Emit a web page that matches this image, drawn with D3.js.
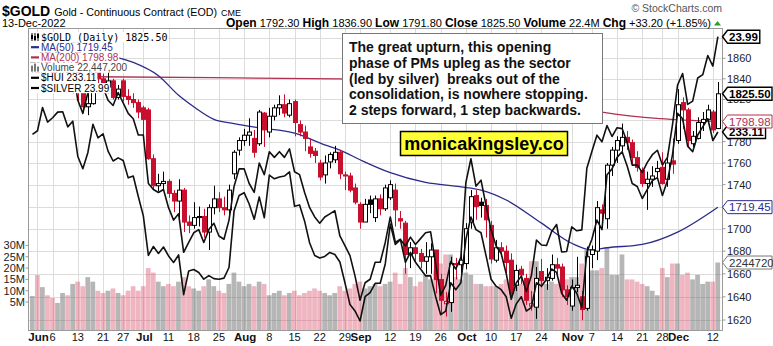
<!DOCTYPE html>
<html><head><meta charset="utf-8">
<script src="https://cdn.jsdelivr.net/npm/d3@7"></script>
<style>body{margin:0;background:#fff}svg{display:block;font-family:"Liberation Sans",Arial,sans-serif}</style>
</head><body><svg id="c" width="773" height="346"></svg>
<script>
// ---------- DATA ----------
const tradingDays = {
 "2022-05": [31],
 "2022-06": [1,2,3,6,7,8,9,10,13,14,15,16,17,21,22,23,24,27,28,29,30],
 "2022-07": [1,5,6,7,8,11,12,13,14,15,18,19,20,21,22,25,26,27,28,29],
 "2022-08": [1,2,3,4,5,8,9,10,11,12,15,16,17,18,19,22,23,24,25,26,29,30,31],
 "2022-09": [1,2,6,7,8,9,12,13,14,15,16,19,20,21,22,23,26,27,28,29,30],
 "2022-10": [3,4,5,6,7,10,11,12,13,14,17,18,19,20,21,24,25,26,27,28,31],
 "2022-11": [1,2,3,4,7,8,9,10,11,14,15,16,17,18,21,22,23,25,28,29,30],
 "2022-12": [1,2,5,6,7,8,9,12,13]
};
const dates = Object.entries(tradingDays).flatMap(([m,ds]) => ds.map(d => m + "-" + String(d).padStart(2,"0")));

const open = [1857,1848,1845,1871,1851,1844,1852,1855,1853,1875,1832,1813,1816,1848,1840,1832,1838,1822,1838,1823,1820,1817,
 1812,1810,1764,1739,1741,1743,1732,1725,1735,1706,1703,1710,1711,1697,1719,1727,1719,1717,1750,1772,
 1781,1786,1783,1778,1807,1789,1804,1812,1815,1805,1818,1796,1789,1775,1771,1760,1749,1761,1763,1770,1749,1748,1737,
 1722,1706,1726,1710,1727,1718,1728,1735,1709,1705,1677,1683,1678,1671,1675,1681,1655,1634,1635,1669,1668,
 1669,1706,1730,1724,1721,1703,1672,1683,1680,1672,1650,1664,1656,1632,1631,1662,1654,1656,1668,1666,1646,
 1632,1648,1640,1630,1677,1680,1717,1709,1758,1772,1776,1784,1779,1765,1753,1741,1745,1752,1756,1745,1762,
 1781,1817,1810,1778,1783,1798,1801,1808,1792.3];
const high = [1858,1857,1874,1874,1862,1858,1860,1858,1878,1877,1834,1838,1858,1849,1845,1847,1840,1834,1840,1830,1826,1820,
 1814,1812,1768,1750,1752,1745,1735,1745,1737,1712,1724,1720,1718,1722,1739,1733,1729,1740,1772,1784,
 1792,1802,1791,1810,1808,1812,1815,1824,1825,1820,1820,1800,1795,1783,1774,1763,1767,1770,1776,1772,1752,1751,1741,
 1724,1727,1730,1730,1731,1740,1744,1741,1716,1707,1688,1685,1682,1688,1687,1681,1660,1644,1675,1674,1680,
 1705,1735,1735,1728,1727,1707,1690,1688,1685,1678,1668,1667,1660,1645,1666,1673,1665,1677,1674,1669,1650,
 1655,1675,1645,1684,1685,1725,1722,1760,1775,1785,1797,1790,1782,1771,1756,1752,1757,1762,1770,1768,1783,
 1830,1822,1812,1790,1803,1808,1815,1810,1836.9];
const low = [1838,1828,1843,1848,1838,1838,1846,1842,1826,1818,1807,1805,1815,1832,1830,1826,1820,1820,1818,1815,1812,1802,
 1784,1763,1735,1734,1735,1728,1715,1707,1697,1696,1700,1702,1692,1681,1713,1715,1712,1711,1745,1767,
 1776,1776,1765,1776,1775,1784,1800,1805,1803,1803,1785,1785,1771,1765,1760,1744,1741,1755,1760,1745,1735,1733,1722,
 1700,1706,1714,1706,1712,1716,1726,1702,1700,1660,1665,1670,1665,1660,1660,1643,1626,1623,1627,1655,1660,
 1664,1700,1708,1710,1692,1669,1670,1675,1659,1640,1645,1651,1633,1628,1621,1648,1646,1654,1658,1640,1633,
 1628,1644,1620,1628,1665,1672,1702,1700,1748,1760,1771,1772,1758,1752,1738,1717,1738,1745,1740,1738,1750,
 1778,1792,1775,1775,1782,1790,1797,1788,1791.8];
const close = [1848,1845,1871,1851,1844,1852,1855,1853,1875,1832,1813,1816,1848,1840,1832,1838,1822,1830,1823,1820,1817,1808,
 1801,1764,1739,1741,1743,1732,1725,1735,1706,1703,1710,1711,1697,1719,1727,1719,1717,1735,1770,1781,
 1786,1789,1770,1808,1791,1804,1812,1815,1807,1816,1798,1789,1783,1769,1767,1747,1760,1768,1770,1750,1748,1735,1724,
 1706,1722,1722,1727,1718,1737,1740,1717,1707,1677,1683,1678,1671,1675,1681,1655,1637,1636,1669,1668,1672,
 1700,1729,1720,1721,1708,1673,1683,1680,1670,1643,1663,1659,1637,1634,1656,1654,1657,1668,1665,1646,1640,
 1648,1650,1629,1675,1681,1719,1714,1758,1772,1781,1784,1779,1765,1756,1741,1745,1748,1755,1741,1760,1759,
 1815,1810,1781,1785,1798,1801,1810,1791,1825.5];
const volumeM = [7.7,16.9,11.6,8,6.8,4.6,9,8,13,14,12,16,14,10,9,10,11,9,8,10,12,10,
 12,20,18,14,12,13,12,14,16,12,11,10,12,15,12,10,9,13,18,14,
 12,13,12,14,13,8,9,10,8,9,10,8,9,10,11,10,9,8,9,12,10,11,13,
 14,11,12,13,12,13,14,18,13,20,16,12,14,17,15,19,22,26,26,16,15,
 18,17,13,13,12,12,12,13,15,12,12,13,14,23,23,14,13,14,13,15,15,
 16,16,22,28,19,19,20,29,17,17,26,15,15,14,13,12,10,8,20,16,22,
 22,17,18,15,17,13,14,14,22.4472];
const silver = [21.65,21.73,22.27,21.93,22.03,22.16,22.17,21.82,21.95,21.15,20.88,21.24,21.88,21.57,21.66,21.27,21.05,21.12,21.06,20.68,20.72,20.28,
 19.87,19.06,19.24,19.10,19.23,19.05,18.92,19.07,18.29,18.75,18.78,18.72,18.59,18.66,18.60,18.59,18.61,18.82,19.97,20.30,
 20.36,20.12,19.80,20.27,19.83,20.74,20.66,20.70,20.72,20.81,20.07,20.10,19.76,19.31,19.06,19.01,19.04,19.12,19.08,18.93,18.52,18.10,17.98,
 17.79,18.25,18.33,18.51,18.51,18.89,19.70,19.28,19.38,19.25,19.43,19.28,19.40,19.52,19.54,18.89,18.28,18.47,18.94,18.79,19.02,
 20.58,21.10,20.50,20.63,20.09,19.58,19.25,19.10,18.70,18.20,18.52,18.65,18.35,18.66,19.37,19.27,19.26,19.54,19.69,19.13,19.14,
 19.64,19.56,19.58,20.89,21.26,21.63,21.48,21.85,21.60,21.80,21.78,21.47,20.96,20.96,20.80,21.02,21.19,21.29,20.96,21.13,21.87,
 22.80,23.08,22.34,22.42,22.97,23.05,23.52,23.26,23.99];
const hui = [262,258,268,262,262,265,262,255,258,245,240,248,252,248,250,245,243,248,244,240,238,232,
 232,215,213,212,213,207,203,205,193,196,199,200,196,200,202,198,197,203,214,220,
 220,215,212,222,218,226,224,226,224,227,219,218,212,207,204,202,204,205,206,198,195,192,186,
 179,184,185,190,190,196,204,196,197,190,193,190,188,186,186,180,175,176,184,182,184,
 197,204,200,199,192,185,183,182,180,174,178,180,176,177,184,183,185,188,187,181,179,
 183,181,177,193,197,203,200,218,220,224,226,221,215,214,210,213,216,217,211,216,225,
 240,238,228,226,232,235,238,230,233.11];
const ma50Dates = ["2022-06-23","2022-06-29","2022-07-07","2022-07-13","2022-07-18","2022-07-22","2022-07-28","2022-08-04","2022-08-15","2022-08-23","2022-08-26","2022-09-01","2022-09-12","2022-09-21","2022-09-30","2022-10-06","2022-10-13","2022-10-24","2022-11-01","2022-11-07","2022-11-10","2022-11-21","2022-12-01","2022-12-13"];
const ma50Values = [1862,1856,1843,1824,1813,1801,1797,1793,1788,1777,1772,1763,1751,1742,1738,1735,1726,1705,1687,1681,1683,1686,1697,1719.45];
const ma200Dates = ["2022-05-31","2022-06-16","2022-08-26","2022-09-30","2022-10-31","2022-11-09","2022-12-13"];
const ma200Values = [1843,1842,1840,1832,1815,1808,1798.98];
const priceTicks = [1620,1640,1660,1680,1700,1720,1740,1760,1780,1800,1820,1840,1860,1880];
const priceLabels = [1620,1640,1660,1680,1700,1740,1760,1780,1820,1840,1860];
const volumeTicks = [5,10,15,20,25,30];
const dateLabels = [["2022-06-01","Jun",1],["2022-06-06","6"],["2022-06-13","13"],["2022-06-21","21"],["2022-06-27","27"],["2022-07-01","Jul",1],["2022-07-11","11"],["2022-07-18","18"],["2022-07-25","25"],["2022-08-01","Aug",1],["2022-08-08","8"],["2022-08-15","15"],["2022-08-22","22"],["2022-08-29","29"],["2022-09-01","Sep",1],["2022-09-12","12"],["2022-09-19","19"],["2022-09-26","26"],["2022-10-03","Oct",1],["2022-10-10","10"],["2022-10-17","17"],["2022-10-24","24"],["2022-11-01","Nov",1],["2022-11-07","7"],["2022-11-14","14"],["2022-11-21","21"],["2022-11-28","28"],["2022-12-01","Dec",1],["2022-12-12","12"]];
const noteLines = ["The great upturn, this opening","phase of PMs upleg as the sector","(led by silver)  breaks out of the","consolidation, is nowhere stopping.","2 steps forward, 1 step backwards."];

// ---------- CHART ----------
const svg = d3.select("#c");
const L = 28.5, R = 722.5, T = 28.5, B = 330.5;
const RED = "#c8102e";
const x = d3.scaleBand().domain(dates).range([29.94, 720.4]);
const xc = d => x(d) + x.bandwidth()/2;
const y = d3.scaleLog().domain([1611.5, 1889]).range([330, 29]);
const yv = d3.scaleLinear().domain([0, 30]).range([313.4, 245.4]);
const ys = d3.scaleLog().domain([17.79, 23.99]).range([321, 36.7]);
const yh = d3.scaleLog().domain([173, 271]).range([322, 36]);

svg.append("rect").attr("width",773).attr("height",346).attr("fill","#fff");
svg.append("clipPath").attr("id","pc").append("rect").attr("x",L).attr("y",T).attr("width",R-L).attr("height",B-T);

const plot = svg.append("g").attr("clip-path","url(#pc)");
// grid
plot.selectAll(".hg").data(priceTicks).join("line").attr("x1",L).attr("x2",R)
  .attr("y1",d=>Math.round(y(d))+0.5).attr("y2",d=>Math.round(y(d))+0.5).attr("stroke","#dcdcdc");
plot.selectAll(".vg").data(dateLabels).join("line").attr("y1",T).attr("y2",B)
  .attr("x1",d=>Math.round(xc(d[0]))+0.5).attr("x2",d=>Math.round(xc(d[0]))+0.5).attr("stroke","#dcdcdc");

// volume
const bw = x.bandwidth();
plot.selectAll(".vb").data(dates).join("rect")
  .attr("x",d=>x(d)).attr("width",bw-0.3)
  .attr("y",(d,i)=>yv(volumeM[i])).attr("height",(d,i)=>B - yv(volumeM[i]))
  .attr("fill",(d,i)=> (i>0 && close[i] < close[i-1]) ? "rgba(214,60,90,0.38)" : "rgba(110,110,110,0.5)");

// MA lines
const ma50 = ma50Dates.map((d,i)=>[xc(d), y(ma50Values[i])]);
const ma200 = ma200Dates.map((d,i)=>[xc(d), y(ma200Values[i])]);
const lineGen = d3.line().curve(d3.curveMonotoneX);
plot.append("path").attr("d",lineGen(ma200)).attr("fill","none").attr("stroke","#b03050").attr("stroke-width",1.3);
plot.append("path").attr("d",lineGen(ma50)).attr("fill","none").attr("stroke","#2b2b8c").attr("stroke-width",1.3);

// candles
const cg = plot.append("g");
dates.forEach((d,i)=>{
  const cx = Math.round(xc(d)) + 0.5;
  const up = i === 0 ? true : close[i] >= close[i-1];
  const col = up ? "#000" : RED;
  const hollow = close[i] > open[i];
  cg.append("line").attr("x1",cx).attr("x2",cx).attr("y1",y(high[i])).attr("y2",y(low[i])).attr("stroke",col).attr("stroke-width",1);
  const top = y(Math.max(open[i],close[i])), bot = y(Math.min(open[i],close[i]));
  cg.append("rect").attr("x",cx-2).attr("width",4).attr("y",top).attr("height",Math.max(1,bot-top))
    .attr("fill",hollow ? "#fff" : col).attr("stroke",col).attr("stroke-width",1);
});

// overlays
const ov = d3.line().x((d,i)=>xc(dates[i]));
plot.append("path").attr("d",ov.y(d=>yh(d))(hui)).attr("fill","none").attr("stroke","#111").attr("stroke-width",1.6).attr("stroke-linejoin","round");
plot.append("path").attr("d",ov.y(d=>ys(d))(silver)).attr("fill","none").attr("stroke","#111").attr("stroke-width",1.6).attr("stroke-linejoin","round");

// frame
svg.append("rect").attr("x",L).attr("y",T).attr("width",R-L).attr("height",B-T).attr("fill","none").attr("stroke","#9a9a9a");

// right axis
svg.selectAll(".ry").data(priceLabels).join("text").attr("x",727).attr("y",d=>y(d)+4)
  .attr("font-size",11).attr("fill","#222").text(d=>d);
svg.selectAll(".rt").data(priceTicks).join("line").attr("x1",R).attr("x2",R+3).attr("y1",d=>y(d)).attr("y2",d=>y(d)).attr("stroke","#999");
// left volume axis
svg.selectAll(".ly").data(volumeTicks).join("text").attr("x",25).attr("y",d=>yv(d)+4).attr("text-anchor","end")
  .attr("font-size",11).attr("fill","#222").text(d=>d+"M");
svg.selectAll(".lt").data(volumeTicks).join("line").attr("x1",L-3).attr("x2",L).attr("y1",d=>yv(d)).attr("y2",d=>yv(d)).attr("stroke","#999");
// bottom axis
svg.selectAll(".bx").data(dateLabels).join("text").attr("x",d=>xc(d[0])+(d[2]?1:0)).attr("y",341).attr("text-anchor","middle")
  .attr("font-size",d=>d[2]?11.5:11).attr("font-weight",d=>d[2]?"bold":"normal").attr("fill","#111").text(d=>d[1]);

// header
const h1 = svg.append("text").attr("x",2).attr("y",15.5).attr("fill","#000");
h1.append("tspan").attr("font-size",14).attr("font-weight","bold").text("$GOLD");
h1.append("tspan").attr("font-size",10.7).attr("dx",4).text("Gold - Continuous Contract (EOD)");
h1.append("tspan").attr("font-size",9).attr("dx",4).text("CME");
svg.append("text").attr("x",2).attr("y",27).attr("font-size",11).text("13-Dec-2022");
const h2 = svg.append("text").attr("x",711).attr("y",27).attr("text-anchor","end").attr("font-size",11);
[["Open"," 1792.30  "],["High"," 1836.90  "],["Low"," 1791.80  "],["Close"," 1825.50  "],["Volume"," 22.4M  "],["Chg"," +33.20 (+1.85%)"]].forEach(([a,b])=>{
  h2.append("tspan").attr("font-weight","bold").attr("font-size",12).text(a);
  h2.append("tspan").text(b);
});
svg.append("path").attr("d","M714,25.5 L717.5,21 L721,25.5 Z").attr("fill","#2a9d2a");
svg.append("text").attr("x",722).attr("y",12).attr("text-anchor","end").attr("font-size",10.5).attr("fill","#555").text("\u00A9 StockCharts.com");

// legend
const lg = svg.append("g");
const legend = [
  {t:"$GOLD (Daily) 1825.50", mono:true, icon:"candle"},
  {t:"MA(50) 1719.45", c:"#2b2b8c", fc:"#2b2b8c", icon:"line"},
  {t:"MA(200) 1798.98", c:"#b03050", fc:"#b03050", icon:"line"},
  {t:"Volume 22,447,200", c:"#888", fc:"#444", icon:"vol"},
  {t:"$HUI 233.11", c:"#000", icon:"line"},
  {t:"$SILVER 23.99", c:"#000", icon:"line"}
];
legend.forEach((e,i)=>{
  const cy = 37 + i*10.2;
  const tx = lg.append("text").attr("x",41).attr("y",cy+3.6).attr("fill",e.fc||"#000")
     .attr("font-size",10).attr("font-family",e.mono?"DejaVu Sans Mono":null).text(e.t);
  const w = tx.node().getComputedTextLength();
  lg.insert("rect","text").attr("x",29).attr("y",cy-5).attr("width",w+13).attr("height",10.2).attr("fill","#fff");
  if(e.icon==="line") lg.append("line").attr("x1",31).attr("x2",39).attr("y1",cy).attr("y2",cy).attr("stroke",e.c).attr("stroke-width",2.2);
  if(e.icon==="vol") [0,3,6].forEach((o,k)=>lg.append("rect").attr("x",31+o).attr("y",cy-[2,4,1][k]).attr("width",2).attr("height",[2,4,1][k]+4).attr("fill","#777"));
  if(e.icon==="candle") [0,3,6].forEach((o,k)=>{lg.append("line").attr("x1",32+o).attr("x2",32+o).attr("y1",cy-4).attr("y2",cy+4).attr("stroke","#000");
     lg.append("rect").attr("x",31+o).attr("y",cy-[2,1,3][k]).attr("width",2).attr("height",4).attr("fill","#000");});
});

// right tags
function tag(yc, label, color, textColor, bold){
  const g = svg.append("g");
  const t = g.append("text").attr("x",729).attr("y",yc+4).attr("font-size",11.5).attr("font-weight",bold?"bold":"normal").attr("fill",textColor).text(label);
  const w = t.node().getComputedTextLength();
  const x0 = 722.5, x1 = 727.5, x2 = Math.min(772, 731 + w);
  g.insert("path","text").attr("d",`M${x0},${yc} L${x1},${yc-6.5} L${x2},${yc-6.5} L${x2},${yc+6.5} L${x1},${yc+6.5} Z`)
    .attr("fill","#fff").attr("stroke",color).attr("stroke-width",bold?1.4:1);
}
const n = dates.length-1;
tag(yv(volumeM[n]), "2244720", "#777", "#333", false);
tag(y(ma50Values[ma50Values.length-1]), "1719.45", "#2b2b8c", "#2b2b8c", false);
tag(yh(hui[n]), "233.11", "#000", "#000", true);
tag(y(ma200Values[ma200Values.length-1]), "1798.98", "#b03050", "#b03050", false);
tag(y(close[n]), "1825.50", "#000", "#000", true);
tag(ys(silver[n]), "23.99", "#000", "#000", true);

// annotation
svg.append("rect").attr("x",342.5).attr("y",33.5).attr("width",260).attr("height",90).attr("fill","#fff").attr("stroke","#777");
svg.append("g").selectAll("text").data(noteLines).join("text").attr("x",349).attr("y",(d,i)=>52+i*15.8)
  .attr("font-size",14).attr("font-weight","bold").attr("fill","#111").style("white-space","pre").text(d=>d);
svg.append("rect").attr("x",400.5).attr("y",131.5).attr("width",167).attr("height",24).attr("fill","#ffff33").attr("stroke","#000").attr("stroke-width",1.5);
svg.append("text").attr("x",484).attr("y",150).attr("text-anchor","middle").attr("font-size",18).attr("font-weight","bold").attr("fill","#000").text("monicakingsley.co");
</script></body></html>
